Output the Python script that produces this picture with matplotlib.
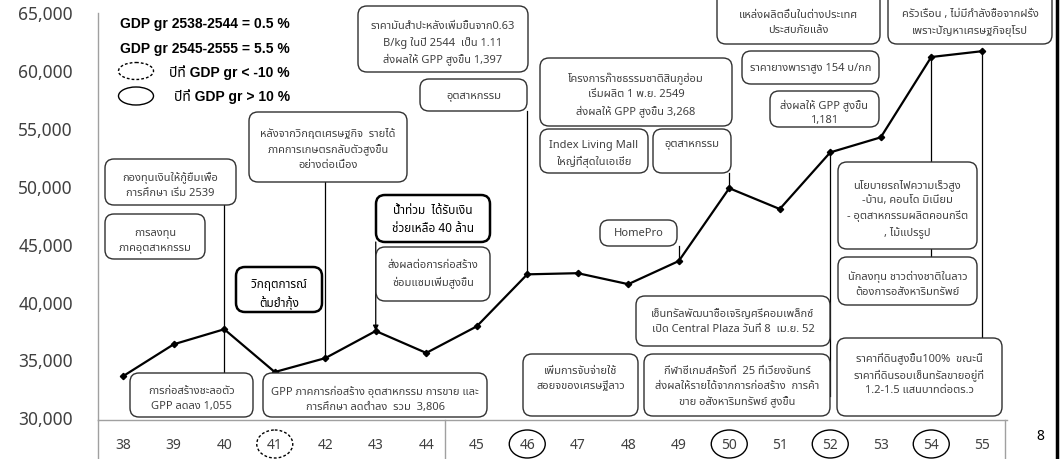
import matplotlib
matplotlib.use("Agg")
import matplotlib.pyplot as plt
import matplotlib.font_manager as fm
from matplotlib.ft2font import FT2Font
from matplotlib.patches import FancyBboxPatch, Ellipse

# --------------------------------------------------------------
#  DATA
# --------------------------------------------------------------
years = ["38", "39", "40", "41", "42", "43", "44", "45", "46",
         "47", "48", "49", "50", "51", "52", "53", "54", "55"]
gpp = [33550, 36300, 37600, 33900, 35100, 37450, 35550, 37850, 42350,
       42450, 41500, 43500, 49800, 48000, 52900, 54200, 61150, 61650]
yticks = [30000, 35000, 40000, 45000, 50000, 55000, 60000, 65000]
low_years = ["41"]                     # GDP gr < -10 %
high_years = ["46", "50", "52", "54"]  # GDP gr > 10 %

legend_lines = ["GDP gr 2538-2544 = 0.5 %",
                "GDP gr 2545-2555 = 5.5 %",
                "ปีที่ GDP gr < -10 %",
                "ปีที่ GDP gr > 10 %"]

# --------------------------------------------------------------
#  FONTS (need one with Thai glyphs)
# --------------------------------------------------------------
def find_thai_family():
    found = []
    for f in fm.fontManager.ttflist:
        try:
            if 0x0E01 in FT2Font(f.fname).get_charmap():
                found.append(f.name)
        except Exception:
            pass
    for pref in ["Noto Sans Thai", "Noto Sans Thai UI", "Tahoma", "Loma",
                 "Garuda", "Sarabun", "Noto Serif Thai"]:
        if pref in found:
            return pref
    for n in found:
        if "Thai" in n:
            return n
    return found[0] if found else None

thai = find_thai_family()
thai_list = [thai] if thai else []
families = ["Noto Sans"] + thai_list + ["DejaVu Sans"]
bold_families = ["Liberation Sans"] + thai_list + ["DejaVu Sans"]
plt.rcParams["font.family"] = families

W, H = 1060, 460
fig = plt.figure(figsize=(W / 100, H / 100), dpi=100)
fig.patch.set_facecolor("white")

# main chart axes, placed in pixels
ax_l, ax_r, ax_t, ax_b = 98, 1007, 13.5, 421
ax = fig.add_axes([ax_l / W, (H - ax_b) / H, (ax_r - ax_l) / W, (ax_b - ax_t) / H])
ax.set_facecolor("none")
x = list(range(len(years)))
ax.plot(x, gpp, color="black", lw=1.6, marker="D", ms=3.2, zorder=5)
ax.set_xlim(-0.5, len(years) - 0.5)
ax.set_ylim(29750, 65000)
ax.set_yticks(yticks)
ax.set_yticklabels([f"{v:,}" for v in yticks], fontsize=12.5, color="#404040")
ax.tick_params(axis="y", length=0, pad=18)
ax.set_xticks([])
for s in ["top", "right"]:
    ax.spines[s].set_visible(False)
for s in ["left", "bottom"]:
    ax.spines[s].set_color("#a0a0a0")
    ax.spines[s].set_linewidth(1.0)

# overlay in image pixel coordinates (y down)
ov = fig.add_axes([0, 0, 1, 1], zorder=3)
ov.set_xlim(0, W)
ov.set_ylim(H, 0)
ov.axis("off")
ov.patch.set_alpha(0)

def px(i):
    disp = ax.transData.transform((i, gpp[i]))
    return ov.transData.inverted().transform(disp)

def xpx(i):
    return px(i)[0]

# category axis: labels, group separators
for i, lab in enumerate(years):
    ov.text(xpx(i), 446, lab, ha="center", va="center", fontsize=10, color="#404040")
for gx in [ax_l, 445, 1005]:
    ov.plot([gx, gx], [ax_b, H], color="#a0a0a0", lw=1.0)
for i, lab in enumerate(years):
    if lab in low_years or lab in high_years:
        ov.add_patch(Ellipse((xpx(i), 445), 36, 28, fill=False, ec="black", lw=1.0,
                             ls=(0, (2, 1.5)) if lab in low_years else "-"))

# legend text block
leg_y = [24, 49, 72, 97]
for s, yy in zip(legend_lines, leg_y):
    ov.text(290, yy, s, ha="right", va="center", fontsize=10, fontweight="bold",
            color="black", family=bold_families)
ov.add_patch(Ellipse((136, 72), 35, 17, fill=False, ec="black", lw=1.0, ls=(0, (2, 1.5))))
ov.add_patch(Ellipse((136, 97), 35, 18, fill=False, ec="black", lw=1.0))

# annotation boxes: text, (x0, y0, x1, y1) px, text centre y, bold
boxes = [
    ("ราคามันสำปะหลังเพิ่มขึ้นจาก0.63\nB/kg ในปี 2544  เป็น 1.11\nส่งผลให้ GPP สูงขึ้น 1,397",
     (358, 7, 528, 73), 43, False),
    ("อุตสาหกรรม", (420, 80, 527, 112), 96, False),
    ("หลังจากวิกฤตเศรษฐกิจ  รายได้\nภาคการเกษตรกลับตัวสูงขึ้น\nอย่างต่อเนื่อง",
     (249, 113, 407, 183), 150, False),
    ("กองทุนเงินให้กู้ยืมเพื่อ\nการศึกษา เริ่ม 2539", (105, 160, 236, 206), 185, False),
    ("การลงทุน\nภาคอุตสาหกรรม", (105, 215, 205, 260), 241, False),
    ("วิกฤตการณ์\nต้มยำกุ้ง", (236, 268, 322, 313), 294, True),
    ("น้ำท่วม  ได้รับเงิน\nช่วยเหลือ 40 ล้าน", (376, 196, 490, 243), 220, True),
    ("ส่งผลต่อการก่อสร้าง\nซ่อมแซมเพิ่มสูงขึ้น", (376, 248, 490, 302), 274, False),
    ("การก่อสร้างชะลอตัว\nGPP ลดลง 1,055", (130, 374, 253, 418), 399, False),
    ("GPP ภาคการก่อสร้าง อุตสาหกรรม การขาย และ\nการศึกษา ลดต่ำลง  รวม  3,806",
     (263, 374, 487, 418), 399, False),
    ("โครงการก๊าซธรรมชาติสินภูฮ่อม\nเริ่มผลิต 1 พ.ย. 2549\nส่งผลให้ GPP สูงขึ้น 3,268",
     (540, 59, 732, 127), 95, False),
    ("Index Living Mall\nใหญ่ที่สุดในเอเชีย", (540, 130, 648, 174), 154, False),
    ("อุตสาหกรรม", (653, 130, 731, 174), 145, False),
    ("HomePro", (600, 221, 677, 247), 234, False),
    ("แหล่งผลิตอื่นในต่างประเทศ\nประสบภัยแล้ง", (717, -25, 880, 45), 23, False),
    ("ราคายางพาราสูง 154 บ/กก", (742, 52, 879, 85), 68, False),
    ("ส่งผลให้ GPP สูงขึ้น\n1,181", (770, 92, 879, 128), 113, False),
    ("ครัวเรือน , ไม่มีกำลังซื้อจากฝรั่ง\nเพราะปัญหาเศรษฐกิจยุโรป", (888, -25, 1052, 45), 23, False),
    ("เซ็นทรัลพัฒนาซื้อเจริญศรีคอมเพล็กซ์\nเปิด Central Plaza วันที่ 8  เม.ย. 52",
     (636, 297, 830, 347), 322, False),
    ("เพิ่มการจับจ่ายใช้\nสอยจของเศรษฐีลาว", (523, 355, 638, 417), 379, False),
    ("กีฬาซีเกมส์ครั้งที่  25 ที่เวียงจันทร์\nส่งผลให้รายได้จากการก่อสร้าง  การค้า\nขาย อสังหาริมทรัพย์ สูงขึ้น",
     (644, 355, 830, 417), 387, False),
    ("นโยบายรถไฟความเร็วสูง\n-บ้าน, คอนโด มิเนียม\n- อุตสาหกรรมผลิตคอนกรีต\n, ไม้แปรรูป",
     (838, 163, 977, 250), 209, False),
    ("นักลงทุน ชาวต่างชาติในลาว\nต้องการอสังหาริมทรัพย์", (838, 258, 977, 306), 284, False),
    ("ราคาที่ดินสูงขึ้น100%  ขณะนี้\nราคาที่ดินรอบเซ็นทรัลขายอยู่ที่\n1.2-1.5 แสนบาทต่อตร.ว",
     (837, 339, 1002, 417), 374, False),
]

for text, (x0, y0, x1, y1), ty, bold in boxes:
    ov.add_patch(FancyBboxPatch((x0, y0), x1 - x0, y1 - y0,
                                boxstyle="round,pad=0,rounding_size=9",
                                fc="white", ec="black" if bold else "#303030",
                                lw=1.8 if bold else 1.0, zorder=4))
    ov.text((x0 + x1) / 2, ty, text, ha="center", va="center", multialignment="center",
            fontsize=8.5 if bold else 8, fontweight="bold" if bold else "normal",
            color="black" if bold else "#404040", linespacing=1.5, zorder=6)

# leader lines from boxes to the data points
def leader(i, y_from, y_to=None, arrow=False):
    xp, yp = px(i)
    end = yp if y_to is None else y_to
    if arrow:
        ov.annotate("", xy=(xp, yp), xytext=(xp, y_from),
                    arrowprops=dict(arrowstyle="-|>", color="black", lw=0.9,
                                    mutation_scale=8, shrinkA=0, shrinkB=0), zorder=3)
    else:
        ov.plot([xp, xp], [y_from, end], color="black", lw=0.9, zorder=3)

leader(2, 206, 374)   # 40
leader(4, 183)        # 42
leader(5, 243, arrow=True)  # 43
leader(8, 112)        # 46
leader(11, 247)       # 49
leader(12, 174)       # 50
leader(14, px(14)[1], 397)  # 52
leader(16, px(16)[1], 163)  # 54
leader(16, 250, 258)
leader(17, px(17)[1], 339)  # 55

# page number and right border
ov.text(1040, 437, "8", ha="center", va="center", fontsize=10, color="black")
ov.plot([1057, 1057], [0, H], color="black", lw=2.5)

fig.savefig("out.png", dpi=100, facecolor="white")
